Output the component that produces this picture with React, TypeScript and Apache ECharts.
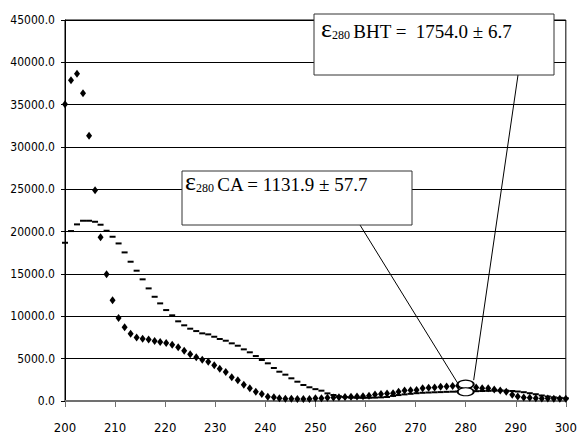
import React, { useEffect, useRef } from "react";
import * as echarts from "echarts";

// Wavelength (nm) of each sample
const wavelengths = [
  200.0, 201.2, 202.4, 203.6, 204.8, 206.0, 207.1, 208.3, 209.5, 210.7,
  211.9, 213.1, 214.3, 215.5, 216.7, 217.9, 219.0, 220.2, 221.4, 222.6,
  223.8, 225.0, 226.2, 227.4, 228.6, 229.8, 230.9, 232.1, 233.3, 234.5,
  235.7, 236.9, 238.1, 239.3, 240.5, 241.7, 242.8, 244.0, 245.2, 246.4,
  247.6, 248.8, 250.0, 251.2, 252.4, 253.6, 254.7, 255.9, 257.1, 258.3,
  259.5, 260.7, 261.9, 263.1, 264.3, 265.5, 266.6, 267.8, 269.0, 270.2,
  271.4, 272.6, 273.8, 275.0, 276.2, 277.4, 278.5, 279.7, 280.9, 282.1,
  283.3, 284.5, 285.7, 286.9, 288.1, 289.3, 290.4, 291.6, 292.8, 294.0,
  295.2, 296.4, 297.6, 298.8, 300.0,
];

// BHT (diamond markers)
const bhtValues = [
  35040, 37870, 38660, 36340, 31340, 24880, 19330, 14960, 11890, 9790,
  8720, 7930, 7500, 7360, 7260, 7100, 6980, 6850, 6630, 6340,
  5930, 5510, 5180, 4880, 4640, 4210, 3810, 3430, 2800, 2440,
  1930, 1500, 1100, 830, 510, 440, 320, 270, 270, 240,
  240, 240, 320, 330, 380, 420, 440, 470, 500, 520,
  560, 620, 780, 830, 880, 920, 1100, 1230, 1270, 1300,
  1500, 1560, 1600, 1680, 1720, 1760, 1800, 1754, 1760, 1600,
  1520, 1500, 1360, 1250, 1100, 750, 520, 420, 370, 330,
  310, 300, 280, 270, 260,
];

// CA (dash markers)
const caValues = [
  18690, 20070, 20860, 21290, 21290, 21170, 20820, 20110, 19400, 18610,
  17550, 16450, 15390, 14370, 13300, 12310, 11530, 10740, 10120, 9410,
  8940, 8540, 8260, 7990, 7870, 7590, 7320, 7120, 6810, 6530,
  6100, 5750, 5310, 4840, 4450, 3900, 3460, 3110, 2680, 2280,
  1890, 1620, 1400, 1220, 900, 710, 550, 450, 400, 380,
  370, 380, 400, 430, 470, 600, 700, 780, 850, 920,
  970, 1000, 1030, 1050, 1080, 1100, 1120, 1130, 1145, 1160,
  1180, 1200, 1220, 1230, 1220, 1180, 1120, 1040, 920, 800,
  650, 530, 430, 370, 320,
];

// Highlight ellipses at 280 nm
const highlightX = [280, 280];
const highlightY = [1990, 1090];

const xMin = 200;
const xMax = 300;
const xStep = 10;
const yMin = 0;
const yMax = 45000;
const yStep = 5000;

const caLabel = "CA = 1131.9 \u00b1 57.7";
const bhtLabel = "BHT =  1754.0 \u00b1 6.7";

export default function App() {
  const ref = useRef<HTMLDivElement>(null);

  useEffect(() => {
    if (!ref.current) return;
    document.body.style.margin = "0";
    const chart = echarts.init(ref.current, null, { renderer: "svg" });
    const axisFont =
      '"Liberation Sans Narrow", "Arial Narrow", "DejaVu Sans Condensed", "Liberation Sans", Arial, sans-serif';

    chart.setOption({
      animation: false,
      backgroundColor: "#fff",
      grid: {
        left: 65,
        right: 9,
        top: 20,
        bottom: 33,
        show: true,
        borderColor: "#000",
        borderWidth: 1,
      },
      xAxis: {
        type: "value",
        min: xMin,
        max: xMax,
        interval: xStep,
        axisLine: { show: true, lineStyle: { color: "#707070", width: 2 } },
        axisTick: { show: true, length: 6, lineStyle: { color: "#707070" } },
        axisLabel: {
          color: "#000",
          fontFamily: axisFont,
          fontSize: 13,
          margin: 20,
        },
        splitLine: { show: false },
      },
      yAxis: {
        type: "value",
        min: yMin,
        max: yMax,
        interval: yStep,
        axisLine: { show: true, lineStyle: { color: "#000", width: 1 } },
        axisTick: { show: true, length: 4, lineStyle: { color: "#000" } },
        axisLabel: {
          color: "#000",
          fontFamily: axisFont,
          fontSize: 12,
          margin: 10,
          formatter: (v: number) => v.toFixed(1),
        },
        splitLine: { show: true, lineStyle: { color: "#000", width: 1 } },
      },
      series: [
        {
          name: "CA",
          type: "scatter",
          symbol: "rect",
          symbolSize: [6, 2],
          itemStyle: { color: "#000", opacity: 1 },
          data: wavelengths.map((w, i) => [w, caValues[i]]),
          z: 3,
        },
        {
          name: "BHT",
          type: "scatter",
          symbol: "diamond",
          symbolSize: [6, 8],
          itemStyle: { color: "#000", opacity: 1 },
          data: wavelengths.map((w, i) => [w, bhtValues[i]]),
          z: 4,
        },
        {
          name: "highlight",
          type: "scatter",
          symbol: "circle",
          symbolSize: [16, 8],
          itemStyle: { color: "#fff", borderColor: "#000", borderWidth: 1.5, opacity: 1 },
          data: highlightX.map((x, i) => [x, highlightY[i]]),
          z: 5,
        },
      ],
    });

    const up = chart.convertToPixel({ gridIndex: 0 }, [highlightX[0], highlightY[0]]) as number[];

    const richStyle = (main: string) => ({
      text: `{e|\u03b5}{s|280} {m|${main}}`,
      rich: {
        e: { fontFamily: "Liberation Serif", fontSize: 26, verticalAlign: "bottom", lineHeight: 24 },
        s: { fontFamily: "Liberation Serif", fontSize: 12, verticalAlign: "bottom", lineHeight: 20 },
        m: { fontFamily: "Liberation Serif", fontSize: 19, verticalAlign: "bottom", lineHeight: 22 },
      },
      fill: "#000",
    });

    chart.setOption({
      graphic: [
        {
          type: "line",
          shape: { x1: 360, y1: 225, x2: up[0] - 8, y2: up[1] - 1 },
          style: { stroke: "#000", lineWidth: 1 },
          z: 10,
        },
        {
          type: "line",
          shape: { x1: 518, y1: 75, x2: up[0] + 8, y2: up[1] - 4 },
          style: { stroke: "#000", lineWidth: 1 },
          z: 10,
        },
        {
          type: "rect",
          shape: { x: 182, y: 171, width: 230, height: 54 },
          style: { fill: "#fff", stroke: "#333", lineWidth: 1 },
          z: 20,
        },
        {
          type: "text",
          x: 185,
          y: 170,
          style: richStyle(caLabel),
          z: 21,
        },
        {
          type: "rect",
          shape: { x: 314, y: 14, width: 240, height: 61 },
          style: { fill: "#fff", stroke: "#333", lineWidth: 1 },
          z: 20,
        },
        {
          type: "text",
          x: 321,
          y: 17,
          style: richStyle(bhtLabel),
          z: 21,
        },
      ],
    });

    return () => chart.dispose();
  }, []);

  return (
    <div
      ref={ref}
      style={{ position: "absolute", left: 0, top: 0, width: 580, height: 434 }}
    />
  );
}
